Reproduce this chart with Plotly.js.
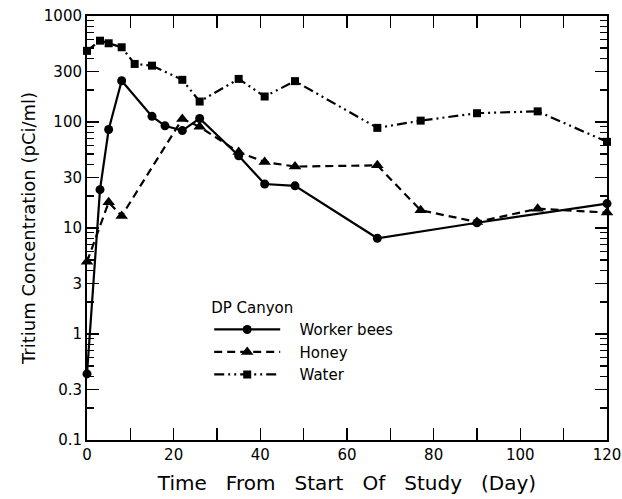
<!DOCTYPE html>
<html>
<head>
<meta charset="utf-8">
<script src="https://cdn.plot.ly/plotly-3.0.1.min.js"></script>
<style>html,body{margin:0;padding:0;background:#fff;}#chart{width:622px;height:499px;}</style>
</head>
<body>
<div id="chart"></div>
<script>
// Worker bees
const beesDays = [0, 3, 5, 8, 15, 18, 22, 26, 35, 41, 48, 67, 90, 120];
const beesConc = [0.42, 23, 85, 245, 113, 92, 83, 108, 48, 26, 25, 8, 11.2, 17];
// Honey
const honeyDays = [0, 5, 8, 22, 26, 35, 41, 48, 67, 77, 90, 104, 120];
const honeyConc = [4.8, 17.5, 13, 107, 90, 52, 42, 38, 39, 14.7, 11.4, 15.2, 14];
// Water
const waterDays = [0, 3, 5, 8, 11, 15, 22, 26, 35, 41, 48, 67, 77, 90, 104, 120];
const waterConc = [469, 585, 553, 507, 353, 340, 250, 156, 255, 174, 243, 88, 103, 121, 126, 65];

const seriesNames = ["Worker bees", "Honey", "Water"];
const xTickVals = [0, 20, 40, 60, 80, 100, 120];
const yTickVals = [0.1, 0.3, 1, 3, 10, 30, 100, 300, 1000];
const yTickText = ["0.1", "0.3", "1", "3", "10", "30", "100", "300", "1000"];
const yMinorVals = [0.2,0.4,0.5,0.6,0.7,0.8,0.9,2,4,5,6,7,8,9,20,40,50,60,70,80,90,200,400,500,600,700,800,900];

const FONT = "DejaVu Sans, sans-serif";
const SP = "\u00a0\u00a0\u00a0";
const xTitle = ["Time", "From", "Start", "Of", "Study", "(Day)"].join(SP);
const pad = "\u00a0\u00a0\u00a0";

const traces = [
  {x: beesDays, y: beesConc, name: pad + seriesNames[0], mode: "lines+markers",
   line: {color: "#000", width: 2.2}, marker: {symbol: "circle", size: 9, color: "#000"}, cliponaxis: false},
  {x: honeyDays, y: honeyConc, name: pad + seriesNames[1], mode: "lines+markers",
   line: {color: "#000", width: 2.2, dash: "8px,5px"}, marker: {symbol: "triangle-up", size: 11, color: "#000"}, cliponaxis: false},
  {x: waterDays, y: waterConc, name: pad + seriesNames[2], mode: "lines+markers",
   line: {color: "#000", width: 2.2, dash: "10px,4px,2px,4px,2px,4px"}, marker: {symbol: "square", size: 8, color: "#000"}, cliponaxis: false}
];

const layout = {
  width: 622, height: 499,
  margin: {l: 87, r: 15, t: 16, b: 59},
  paper_bgcolor: "#fff", plot_bgcolor: "#fff",
  font: {family: FONT, color: "#000", size: 14},
  showlegend: true,
  legend: {
    x: 0.235, y: 0.345, xanchor: "left", yanchor: "top",
    itemwidth: 66,
    title: {text: "DP Canyon", font: {size: 15, family: FONT}},
    font: {size: 15, family: FONT},
    bgcolor: "rgba(0,0,0,0)"
  },
  xaxis: {
    range: [0, 120], showgrid: false, zeroline: false,
    showline: true, linecolor: "#000", linewidth: 2, mirror: "allticks",
    tickvals: xTickVals, ticks: "inside", ticklen: 12, tickwidth: 1.5, tickcolor: "#000",
    minor: {dtick: 10, tick0: 0, ticks: "inside", ticklen: 12, tickwidth: 1.5, tickcolor: "#000", showgrid: false},
    tickfont: {size: 15},
    title: {text: xTitle, font: {size: 20}, standoff: 13}
  },
  yaxis: {
    type: "log", range: [-1, 3], showgrid: false, zeroline: false,
    showline: true, linecolor: "#000", linewidth: 2, mirror: "allticks",
    tickmode: "array", tickvals: yTickVals, ticktext: yTickText,
    ticks: "inside", ticklen: 12, tickwidth: 1.5, tickcolor: "#000",
    minor: {tickmode: "array", tickvals: yMinorVals, ticks: "inside", ticklen: 7, tickwidth: 1.2, tickcolor: "#000", showgrid: false},
    tickfont: {size: 15},
    title: {text: "Tritium Concentration (pCi/ml)", font: {size: 18}, standoff: 4}
  }
};

Plotly.newPlot("chart", traces, layout, {displayModeBar: false, staticPlot: true});
</script>
</body>
</html>
